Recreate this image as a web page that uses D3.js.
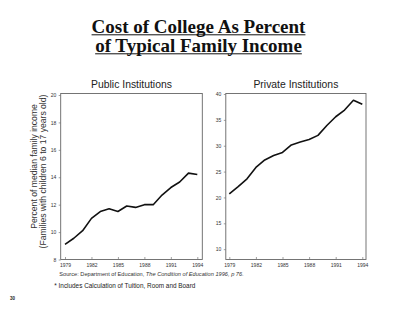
<!DOCTYPE html>
<html>
<head>
<meta charset="utf-8">
<script src="https://cdn.jsdelivr.net/npm/d3@7.9.0/dist/d3.min.js"></script>
<style>
  body { margin: 0; background: #fff; }
  svg { display: block; }
  text { font-family: "Liberation Sans", Arial, sans-serif; fill: #222; }
</style>
</head>
<body>
<div id="chart"></div>
<script>
// values
const years = [1979, 1980, 1981, 1982, 1983, 1984, 1985, 1986, 1987, 1988, 1989, 1990, 1991, 1992, 1993, 1994];
const publicPct = [9.1, 9.55, 10.1, 11.0, 11.5, 11.7, 11.5, 11.9, 11.8, 12.0, 12.0, 12.7, 13.25, 13.65, 14.3, 14.2];
const privatePct = [20.7, 22.1, 23.6, 25.8, 27.25, 28.1, 28.7, 30.15, 30.7, 31.2, 32.0, 33.9, 35.6, 36.9, 38.8, 38.0];
const yearTicks = [1979, 1982, 1985, 1988, 1991, 1994];
const publicTicks = [8, 10, 12, 14, 16, 18, 20];
const privateTicks = [10, 15, 20, 25, 30, 35, 40];

const width = 400, height = 309;

const svg = d3.select('#chart')
  .append('svg')
  .attr('width', width)
  .attr('height', height);

// main title, two underlined lines
const titleLines = [
  { text: 'Cost of College As Percent', y: 33 },
  { text: 'of Typical Family Income', y: 52 },
];
titleLines.forEach((t) => {
  const el = svg.append('text')
    .attr('x', 198.5)
    .attr('y', t.y)
    .attr('text-anchor', 'middle')
    .style('font-family', '"Liberation Serif", "Times New Roman", serif')
    .style('font-weight', 'bold')
    .style('font-size', '19px')
    .style('fill', '#111')
    .text(t.text);
  const w = el.node().getComputedTextLength();
  svg.append('line')
    .attr('x1', 198.5 - w / 2).attr('x2', 198.5 + w / 2)
    .attr('y1', t.y + 1.8).attr('y2', t.y + 1.8)
    .attr('stroke', '#111').attr('stroke-width', 1);
});

const frameTop = 94, frameBottom = 259.5;

const panels = [
  {
    title: 'Public Institutions', values: publicPct, ticks: publicTicks,
    frame: [60.7, 202.3], xr: [65, 197.3], domain: [8, 20], yTop: 95,
  },
  {
    title: 'Private Institutions', values: privatePct, ticks: privateTicks,
    frame: [225.8, 366], xr: [229.3, 362.3], domain: [8, 40], yTop: 94,
  },
];

panels.forEach((p) => {
  const x = d3.scaleLinear().domain([1979, 1994]).range(p.xr);
  const y = d3.scaleLinear().domain(p.domain).range([frameBottom, p.yTop]);
  const g = svg.append('g');

  g.append('text')
    .attr('x', (p.frame[0] + p.frame[1]) / 2)
    .attr('y', 88)
    .attr('text-anchor', 'middle')
    .style('font-size', '10.4px')
    .text(p.title);

  g.append('rect')
    .attr('x', p.frame[0]).attr('y', frameTop - 0.5)
    .attr('width', p.frame[1] - p.frame[0])
    .attr('height', frameBottom - frameTop + 0.5)
    .attr('fill', 'none')
    .attr('stroke', '#666')
    .attr('stroke-width', 0.9);

  // y axis, outer ticks
  const ya = g.append('g')
    .attr('transform', `translate(${p.frame[0]},0)`)
    .call(d3.axisLeft(y).tickValues(p.ticks).tickSize(2).tickPadding(2.5));
  ya.select('.domain').remove();
  ya.selectAll('line').attr('stroke', '#777').attr('stroke-width', 0.7);
  ya.selectAll('text').style('font-size', '5px').style('fill', '#333')
    .style('font-family', '"Liberation Sans", Arial, sans-serif');

  // x axis, ticks pointing up into the frame
  const xa = g.append('g')
    .attr('transform', `translate(0,${frameBottom})`)
    .call(d3.axisBottom(x).tickValues(yearTicks).tickFormat(d3.format('d')).tickSizeInner(-2.5).tickSizeOuter(0).tickPadding(3.5));
  xa.select('.domain').remove();
  xa.selectAll('line').attr('stroke', '#777').attr('stroke-width', 0.7);
  xa.selectAll('text').style('font-size', '5px').style('fill', '#333')
    .style('font-family', '"Liberation Sans", Arial, sans-serif');

  const line = d3.line()
    .x((d, i) => x(years[i]))
    .y((d) => y(d));

  g.append('path')
    .datum(p.values)
    .attr('d', line)
    .attr('fill', 'none')
    .attr('stroke', '#111')
    .attr('stroke-width', 1.6)
    .attr('stroke-linejoin', 'round');
});

// rotated y-axis title on the left panel (two lines)
[
  { text: 'Percent of median family income', x: 37.2, y: 166.5 },
  { text: '(Families with children 6 to 17 years old)', x: 46.3, y: 171.5 },
].forEach((l) => {
  svg.append('text')
    .attr('transform', `translate(${l.x},${l.y}) rotate(-90)`)
    .attr('text-anchor', 'middle')
    .style('font-size', '8.6px')
    .style('fill', '#333')
    .text(l.text);
});

// source + footnote
const src = svg.append('text')
  .attr('x', 59.3).attr('y', 276.3)
  .style('font-size', '5.65px')
  .style('fill', '#333');
src.append('tspan').text('Source: Department of Education, ');
src.append('tspan').style('font-style', 'italic').text('The Condition of Education 1996');
src.append('tspan').style('font-style', 'italic').text(', p 76.');

svg.append('text')
  .attr('x', 54.3).attr('y', 288)
  .style('font-size', '6.4px')
  .style('fill', '#222')
  .text('*  Includes Calculation of Tuition, Room and Board');

svg.append('text')
  .attr('x', 10).attr('y', 300)
  .style('font-size', '4.5px')
  .style('font-weight', 'bold')
  .text('30');
</script>
</body>
</html>
